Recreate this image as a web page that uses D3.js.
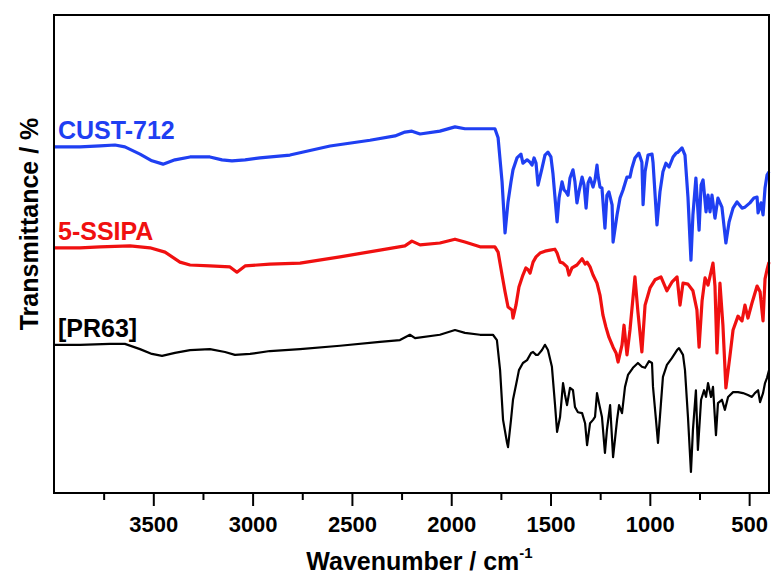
<!DOCTYPE html>
<html>
<head>
<meta charset="utf-8">
<script src="https://cdn.jsdelivr.net/npm/d3@7"></script>
<style>
  body { margin: 0; background: #fff; }
  svg { display: block; font-family: Arial, "Liberation Sans", sans-serif; }
</style>
</head>
<body>
<div class="center"></div>
<script>
// FTIR spectra, values (transmittance in arbitrary %, offset stacked)

const majorTicks = [3500, 3000, 2500, 2000, 1500, 1000, 500];
const minorTicks = [3750, 3250, 2750, 2250, 1750, 1250, 750];

const seriesNames = ["CUST-712", "5-SSIPA", "[PR63]"];
const seriesColors = ["#1f3ff2", "#f01010", "#000000"];

// CUST-712 (blue)
const custWn = [4000, 3869, 3768, 3693, 3643, 3567, 3507, 3451, 3391, 3315, 3215, 3154, 3104, 3038, 2963, 2812, 2610, 2409, 2283, 2233, 2198, 2157, 2057, 1981, 1931, 1855, 1780,
  1764, 1744, 1729, 1714, 1699, 1689, 1669, 1649, 1639, 1618, 1603, 1593, 1583, 1573, 1563, 1543, 1528, 1513, 1498, 1488, 1467, 1457, 1442, 1432, 1422, 1412, 1402, 1387, 1377, 1367, 1357, 1341, 1331, 1321, 1311, 1301, 1286, 1276, 1266, 1261, 1251, 1241, 1226, 1216, 1206, 1190, 1185, 1165, 1150, 1135, 1115, 1100, 1090, 1075, 1055, 1040, 1034, 1024, 1009, 989, 984, 964, 949, 934, 919, 903, 883, 868, 858, 838, 823, 808, 793, 783, 768, 752, 742, 732, 717, 707, 697, 687, 672, 657, 637, 617, 601, 581, 561, 536, 521, 496, 476, 460, 455, 440, 430, 420, 410, 400];
const custT = [72.4, 72.4, 72.6, 72.8, 72.4, 70.9, 69.5, 68.8, 69.7, 70.3, 70.3, 69.7, 69.5, 69.7, 70.1, 70.7, 72.6, 73.8, 74.7, 75.5, 75.7, 75.1, 75.7, 76.6, 76.2, 76.2, 76.2,
  74.3, 65.1, 54.4, 60.9, 65.1, 67.6, 70.1, 70.9, 69.0, 69.7, 69.2, 68.6, 70.1, 69.0, 64.4, 67.9, 70.7, 71.3, 70.3, 66.9, 56.7, 61.7, 65.1, 63.4, 63.0, 62.3, 65.9, 67.6, 65.1, 60.7, 63.0, 66.1, 64.4, 59.6, 64.9, 65.9, 64.0, 65.5, 68.6, 66.5, 64.0, 63.8, 55.4, 62.3, 63.0, 60.3, 52.5, 58.2, 61.7, 63.4, 66.1, 66.1, 68.0, 70.1, 71.1, 69.2, 60.3, 67.2, 70.7, 70.9, 69.2, 56.1, 63.0, 67.2, 69.0, 68.2, 70.3, 71.1, 71.3, 72.2, 70.7, 61.9, 48.7, 58.2, 65.9, 55.0, 64.4, 65.5, 58.8, 62.3, 58.8, 62.3, 57.5, 61.7, 59.8, 52.3, 56.7, 59.6, 60.9, 59.6, 59.8, 60.7, 61.7, 61.9, 58.6, 60.7, 58.2, 63.8, 66.5, 67.2];

// 5-SSIPA (red)
const ssipaWn = [4000, 3869, 3768, 3617, 3517, 3441, 3366, 3315, 3215, 3114, 3079, 3038, 2913, 2761, 2560, 2359, 2233, 2198, 2157, 2057, 1981, 1931, 1855, 1780,
  1764, 1744, 1729, 1714, 1694, 1689, 1674, 1659, 1639, 1624, 1613, 1603, 1588, 1573, 1553, 1528, 1503, 1478, 1467, 1452, 1437, 1417, 1407, 1392, 1367, 1341, 1326, 1316, 1301, 1286, 1266, 1251, 1236, 1221, 1206, 1185, 1170, 1160, 1140, 1130, 1115, 1100, 1075, 1060, 1040, 1024, 999, 974, 944, 914, 889, 863, 848, 833, 808, 783, 763, 752, 737, 722, 707, 682, 672, 662, 647, 632, 617, 596, 581, 556, 536, 521, 506, 486, 460, 445, 430, 420, 410, 400];
const ssipaT = [51.3, 51.3, 51.5, 51.7, 51.3, 50.4, 48.3, 47.7, 47.5, 47.3, 46.2, 47.5, 47.9, 48.1, 49.4, 50.8, 51.7, 52.7, 51.9, 52.3, 53.1, 52.5, 51.5, 51.5,
  50.4, 45.6, 42.1, 38.9, 38.3, 36.6, 39.3, 43.1, 45.6, 47.1, 46.7, 46.0, 48.3, 49.4, 50.2, 50.6, 50.8, 51.0, 50.2, 48.3, 48.1, 47.3, 45.6, 47.1, 47.7, 49.0, 47.9, 48.3, 47.3, 45.6, 43.9, 41.4, 37.2, 34.7, 32.6, 30.5, 29.3, 27.4, 31.0, 35.1, 28.9, 34.1, 45.2, 37.9, 29.5, 39.3, 42.9, 44.6, 45.2, 42.3, 44.1, 45.2, 39.3, 43.9, 43.7, 42.3, 38.3, 30.5, 40.2, 45.0, 43.5, 48.1, 43.3, 29.3, 43.9, 35.1, 22.0, 28.9, 34.1, 37.0, 36.0, 39.3, 36.6, 39.7, 43.3, 42.1, 36.0, 44.8, 46.7, 48.3];

// [PR63] (black)
const prWn = [4000, 3869, 3718, 3643, 3567, 3507, 3456, 3391, 3315, 3215, 3139, 3089, 3013, 2913, 2761, 2560, 2359, 2258, 2208, 2182, 2057, 1981, 1931, 1855, 1790,
  1770, 1754, 1739, 1719, 1714, 1699, 1689, 1669, 1659, 1639, 1618, 1598, 1588, 1573, 1563, 1543, 1528, 1513, 1493, 1478, 1467, 1452, 1437, 1427, 1417, 1402, 1387, 1377, 1362, 1341, 1326, 1316, 1301, 1286, 1276, 1266, 1256, 1241, 1226, 1216, 1200, 1185, 1165, 1155, 1140, 1125, 1110, 1085, 1060, 1040, 1024, 1004, 989, 984, 969, 959, 944, 934, 914, 889, 863, 853, 833, 823, 808, 793, 783, 768, 758, 742, 727, 717, 707, 692, 682, 667, 657, 637, 622, 606, 581, 556, 531, 506, 486, 471, 455, 445, 430, 420, 410, 400];
const prT = [31.0, 31.0, 31.2, 31.2, 30.1, 29.1, 28.7, 29.3, 29.9, 30.1, 29.5, 28.9, 29.1, 29.7, 30.1, 30.8, 31.6, 32.0, 33.1, 32.4, 33.1, 34.1, 33.5, 33.1, 33.1,
  32.0, 25.7, 15.3, 10.5, 9.6, 15.3, 19.5, 23.6, 25.7, 27.2, 27.8, 29.3, 29.5, 28.9, 28.9, 29.9, 31.0, 29.9, 26.4, 18.8, 12.8, 15.9, 23.0, 20.5, 18.4, 22.0, 21.5, 18.0, 16.9, 16.7, 14.6, 10.0, 14.6, 15.3, 15.9, 20.9, 18.8, 15.9, 8.4, 13.2, 18.4, 7.5, 15.3, 18.4, 16.7, 22.2, 24.7, 26.2, 27.2, 26.4, 26.2, 27.6, 27.2, 22.2, 15.3, 10.5, 18.8, 24.3, 26.8, 28.2, 29.9, 30.3, 28.9, 25.7, 15.9, 4.4, 13.2, 21.5, 9.0, 19.5, 21.5, 20.1, 23.0, 20.1, 22.2, 12.1, 18.8, 19.5, 17.4, 20.1, 21.1, 21.1, 20.9, 20.5, 20.1, 20.9, 21.5, 19.0, 20.9, 23.0, 24.1, 25.7];

const margin = {top: 15, right: 8, bottom: 85, left: 54};
const width = 777 - margin.left - margin.right;
const height = 578 - margin.top - margin.bottom;

const xScale = d3.scaleLinear().domain([4000, 400]).range([0, width]);
const yScale = d3.scaleLinear().domain([0, 100]).range([height, 0]);

const svg = d3.select(".center").append("svg")
              .attr("width", 777)
              .attr("height", 578)
              .append("g")
              .attr("transform", `translate(${margin.left},${margin.top})`);

const series = [
  {name: seriesNames[0], color: seriesColors[0], wn: custWn, t: custT, w: 3.2},
  {name: seriesNames[1], color: seriesColors[1], wn: ssipaWn, t: ssipaT, w: 3.2},
  {name: seriesNames[2], color: seriesColors[2], wn: prWn, t: prT, w: 2.2}
];

const line = d3.line()
               .x(d => xScale(d[0]))
               .y(d => yScale(d[1]));

svg.selectAll(".spec")
   .data(series)
   .enter().append("path")
   .attr("class", "spec")
   .attr("d", s => line(s.wn.map((w, i) => [w, s.t[i]])))
   .style("fill", "none")
   .style("stroke", s => s.color)
   .style("stroke-width", s => s.w)
   .style("stroke-linejoin", "round");

// series labels just above the start of each curve
svg.selectAll(".lbl")
   .data(series)
   .enter().append("text")
   .attr("class", "lbl")
   .attr("x", 4)
   .attr("y", s => yScale(s.t[0]) - 8)
   .text(s => s.name)
   .style("fill", s => s.color)
   .style("font-size", "25px")
   .style("font-weight", "700");

// frame
svg.append("rect")
   .attr("width", width)
   .attr("height", height)
   .style("fill", "none")
   .style("stroke", "#000")
   .style("stroke-width", 2);

// X-axis
const xAxis = d3.axisBottom(xScale).tickValues(majorTicks).tickSize(13).tickPadding(10).tickFormat(d3.format("d"));
const gx = svg.append("g").attr("transform", `translate(0, ${height})`).call(xAxis);
gx.select(".domain").remove();
gx.selectAll("line").style("stroke-width", 2);
gx.selectAll("text")
  .style("font-size", "22px")
  .style("font-weight", "700")
  .style("font-family", "Arial, 'Liberation Sans', sans-serif");

const xMinor = d3.axisBottom(xScale).tickValues(minorTicks).tickSize(7).tickFormat("");
const gm = svg.append("g").attr("transform", `translate(0, ${height})`).call(xMinor);
gm.select(".domain").remove();
gm.selectAll("line").style("stroke-width", 2);

// X-axis label
const xl = svg.append("text")
   .attr("x", width / 2 + 8)
   .attr("y", height + 77)
   .attr("text-anchor", "middle")
   .style("font-size", "25px")
   .style("font-weight", "700");
xl.append("tspan").text("Wavenumber / cm");
xl.append("tspan").text("-1").attr("dy", -12).style("font-size", "15px");

// Y-axis label
svg.append("text")
   .text("Transmittance / %")
   .attr("transform", "rotate(-90)")
   .attr("x", -(224 - margin.top))
   .attr("y", -margin.left + 38)
   .attr("text-anchor", "middle")
   .style("font-size", "25px")
   .style("font-weight", "700");
</script>
</body>
</html>
